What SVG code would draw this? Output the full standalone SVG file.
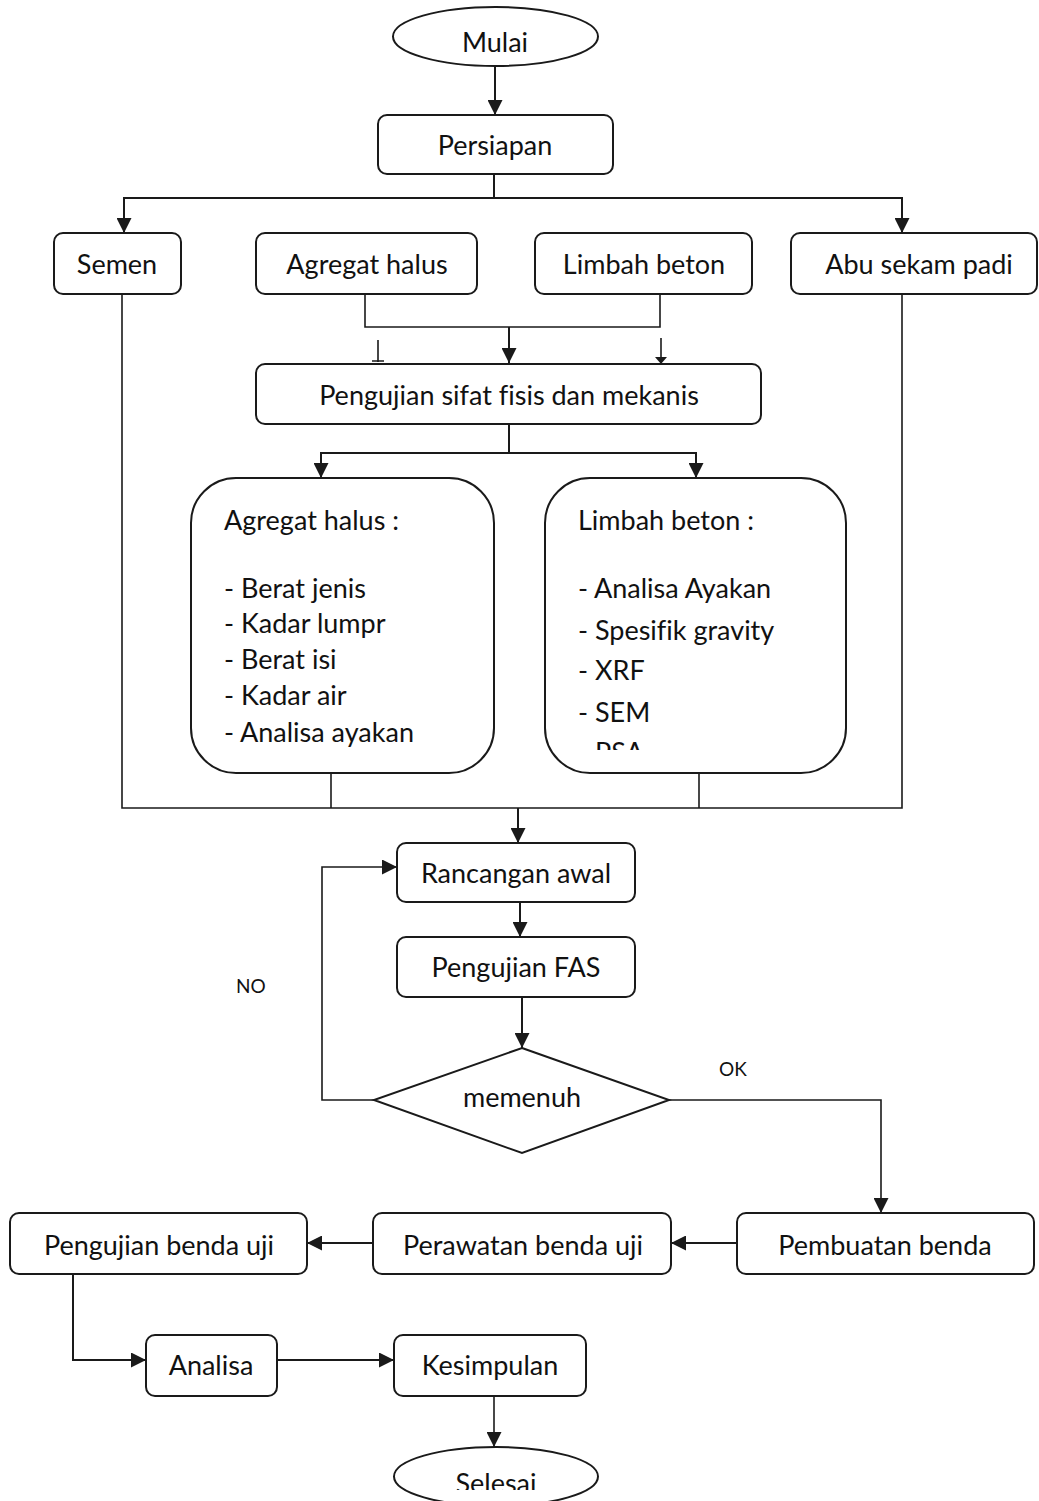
<svg xmlns="http://www.w3.org/2000/svg" width="1039" height="1501" viewBox="0 0 1039 1501">
<style>
.n{fill:none;stroke:#1a1a1a;stroke-width:2}
.t{font-family:Lato,"Open Sans",sans-serif;font-size:27px;fill:#111;font-variant-ligatures:none}
.c{text-anchor:middle}
.s{font-size:19px}
.ln{fill:none;stroke:#1a1a1a;stroke-width:2}
.th{fill:none;stroke:#1a1a1a;stroke-width:1.6}
.a{marker-end:url(#arr)}
</style>
<defs>
<marker id="arr" viewBox="0 0 10 10" refX="10" refY="5" markerWidth="15" markerHeight="15" markerUnits="userSpaceOnUse" orient="auto">
<path d="M0,0 L10,5 L0,10 z" fill="#1a1a1a"/>
</marker>
<clipPath id="clipR"><rect x="545" y="478" width="301" height="272"/></clipPath>
<clipPath id="clipS"><rect x="394" y="1440" width="204" height="50"/></clipPath>
</defs>
<rect width="1039" height="1501" fill="#fff"/>

<g id="connectors">
<path class="ln a" d="M495,66 V115"/>
<path class="ln" d="M494,174 V198"/>
<path class="ln a" d="M494,198 H124 V233"/>
<path class="ln a" d="M494,198 H902 V233"/>
<path class="th" d="M365,294 V327 H660 V294"/>
<path class="ln a" d="M509,327 V363"/>
<path class="th" d="M378,340 V362 M372,361 H384"/>
<path class="th" d="M661,338 V358"/>
<path d="M655,357 L667,357 L661,364 z" fill="#1a1a1a"/>
<path class="ln" d="M509,424 V453"/>
<path class="ln a" d="M509,453 H321 V478"/>
<path class="ln a" d="M509,453 H696 V478"/>
<path class="th" d="M122,294 V808 H902 V294"/>
<path class="th" d="M331,773 V808"/>
<path class="th" d="M699,773 V808"/>
<path class="ln a" d="M518,808 V843"/>
<path class="ln a" d="M520,902 V937"/>
<path class="ln a" d="M522,997 V1048"/>
<path class="th a" d="M374,1100 H322 V867 H397"/>
<path class="th a" d="M669,1100 H881 V1213"/>
<path class="ln a" d="M737,1243 H671"/>
<path class="ln a" d="M373,1243 H307"/>
<path class="ln a" d="M73,1274 V1360 H146"/>
<path class="ln a" d="M277,1360 H394"/>
<path class="th a" d="M494,1396 V1447"/>
</g>

<g id="mulai"><ellipse class="n" cx="495.5" cy="36.5" rx="102.5" ry="29.5"/><text class="t c" x="495" y="52">Mulai</text></g>
<g id="persiapan"><rect class="n" x="378" y="115" width="235" height="59" rx="9"/><text class="t c" x="495" y="155">Persiapan</text></g>
<g id="semen"><rect class="n" x="54" y="233" width="127" height="61" rx="9"/><text class="t c" x="117" y="274">Semen</text></g>
<g id="agregat"><rect class="n" x="256" y="233" width="221" height="61" rx="9"/><text class="t c" x="367" y="274">Agregat halus</text></g>
<g id="limbah"><rect class="n" x="535" y="233" width="217" height="61" rx="9"/><text class="t c" x="644" y="274">Limbah beton</text></g>
<g id="abu"><rect class="n" x="791" y="233" width="246" height="61" rx="9"/><text class="t c" x="919" y="274">Abu sekam padi</text></g>
<g id="pengujian-sifat"><rect class="n" x="256" y="364" width="505" height="60" rx="9"/><text class="t c" x="509" y="405">Pengujian sifat fisis dan mekanis</text></g>

<g id="agregat-detail"><rect class="n" x="191" y="478" width="303" height="295" rx="45"/>
<text class="t" x="224" y="530">Agregat halus :</text>
<text class="t" x="224" y="598">- Berat jenis</text>
<text class="t" x="224" y="633">- Kadar lumpr</text>
<text class="t" x="224" y="669">- Berat isi</text>
<text class="t" x="224" y="705">- Kadar air</text>
<text class="t" x="224" y="742">- Analisa ayakan</text>
</g>
<g id="limbah-detail"><rect class="n" x="545" y="478" width="301" height="295" rx="45"/>
<text class="t" x="578" y="530">Limbah beton :</text>
<text class="t" x="578" y="598">- Analisa Ayakan</text>
<text class="t" x="578" y="640">- Spesifik gravity</text>
<text class="t" x="578" y="680">- XRF</text>
<text class="t" x="578" y="722">- SEM</text>
<text class="t" x="578" y="762" clip-path="url(#clipR)">- PSA</text>
</g>

<g id="rancangan"><rect class="n" x="397" y="843" width="238" height="59" rx="9"/><text class="t c" x="516" y="883">Rancangan awal</text></g>
<g id="fas"><rect class="n" x="397" y="937" width="238" height="60" rx="9"/><text class="t c" x="516" y="977">Pengujian FAS</text></g>
<g id="memenuh"><polygon class="n" points="522,1048 669,1100 522,1153 374,1100"/><text class="t c" x="522" y="1107">memenuh</text></g>
<g id="label-no"><text class="t s" x="236" y="993">NO</text></g>
<g id="label-ok"><text class="t s" x="719" y="1076">OK</text></g>

<g id="pengujian-benda"><rect class="n" x="10" y="1213" width="297" height="61" rx="9"/><text class="t c" x="159" y="1255">Pengujian benda uji</text></g>
<g id="perawatan"><rect class="n" x="373" y="1213" width="298" height="61" rx="9"/><text class="t c" x="523" y="1255">Perawatan benda uji</text></g>
<g id="pembuatan"><rect class="n" x="737" y="1213" width="297" height="61" rx="9"/><text class="t c" x="885" y="1255">Pembuatan benda</text></g>
<g id="analisa"><rect class="n" x="146" y="1335" width="131" height="61" rx="9"/><text class="t c" x="211" y="1375">Analisa</text></g>
<g id="kesimpulan"><rect class="n" x="394" y="1335" width="192" height="61" rx="9"/><text class="t c" x="490" y="1375">Kesimpulan</text></g>
<g id="selesai"><ellipse class="n" cx="496" cy="1476.5" rx="102" ry="29.5"/><text class="t c" x="496" y="1493" clip-path="url(#clipS)">Selesai</text></g>
</svg>
